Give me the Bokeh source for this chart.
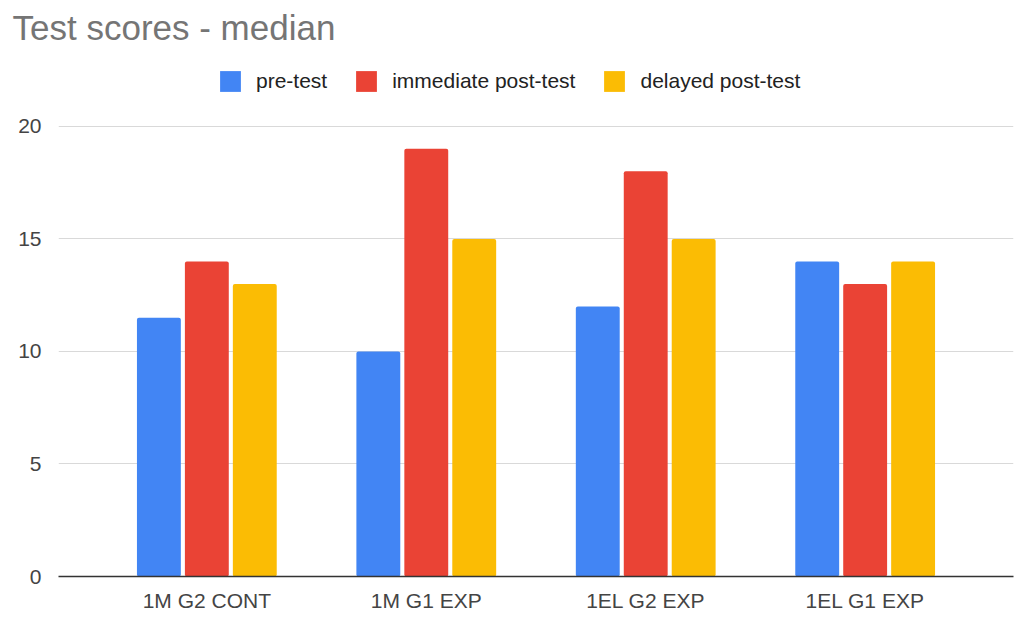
from bokeh.plotting import figure
from bokeh.models import ColumnDataSource, Range1d, FixedTicker, Legend, LegendItem
from bokeh.transform import dodge
from bokeh.embed import file_html
from bokeh.resources import INLINE

categories = ["1M G2 CONT", "1M G1 EXP", "1EL G2 EXP", "1EL G1 EXP"]
pre_test = [11.5, 10, 12, 14]
immediate_post = [14, 19, 18, 13]
delayed_post = [13, 15, 15, 14]
series_names = ["pre-test", "immediate post-test", "delayed post-test"]
colors = ["#4285F4", "#EA4335", "#FBBC04"]
y_ticks = [0, 5, 10, 15, 20]

FONT = "Liberation Sans"

src = ColumnDataSource(dict(x=list(range(len(categories))), pre=pre_test,
                            imm=immediate_post, dly=delayed_post))

# frame spans 50..576 px; 0..20 occupies 125..576, extra headroom holds the legend
p = figure(width=1031, height=633, output_backend="svg", toolbar_location=None,
           x_range=Range1d(-0.676, len(categories) - 1 + 0.676), y_range=Range1d(0, 23.326),
           min_border_left=58, min_border_right=18, min_border_bottom=57, min_border_top=50)

renderers = []
for col, off, c in zip(["pre", "imm", "dly"], [-0.2185, 0, 0.2185], colors):
    r = p.vbar(x=dodge("x", off, range=p.x_range), top=col, width=0.2, source=src,
               fill_color=c, line_color=None, border_radius=2)
    renderers.append(r)

p.title.text = "Test scores - median"
p.title.text_font = FONT
p.title.text_font_size = "35px"
p.title.text_font_style = "normal"
p.title.text_color = "#757575"
p.title.align = "left"
p.title.offset = -46

p.outline_line_color = None
p.background_fill_color = "white"
p.border_fill_color = "white"

p.xgrid.grid_line_color = None
p.ygrid.grid_line_color = "#d9d9d9"
p.ygrid.grid_line_width = 1
p.ygrid.ticker = FixedTicker(ticks=y_ticks)

p.yaxis.ticker = FixedTicker(ticks=y_ticks)
p.yaxis.axis_line_color = None
p.yaxis.major_tick_line_color = None
p.yaxis.minor_tick_line_color = None
p.yaxis.major_label_text_font = FONT
p.yaxis.major_label_text_font_size = "21px"
p.yaxis.major_label_text_color = "#444444"
p.yaxis.major_label_standoff = 11

p.xaxis.ticker = FixedTicker(ticks=list(range(len(categories))))
p.xaxis.major_label_overrides = {i: c for i, c in enumerate(categories)}
p.xaxis.axis_line_color = "#333333"
p.xaxis.axis_line_width = 1.5
p.xaxis.major_tick_line_color = None
p.xaxis.minor_tick_line_color = None
p.xaxis.major_label_text_font = FONT
p.xaxis.major_label_text_font_size = "21px"
p.xaxis.major_label_text_color = "#444444"
p.xaxis.major_label_standoff = 6

legend = Legend(items=[LegendItem(label=n, renderers=[r]) for n, r in zip(series_names, renderers)],
                orientation="horizontal", location=(159, 482))
legend.label_text_font = FONT
legend.label_text_font_size = "21px"
legend.label_text_color = "#222222"
legend.glyph_width = 26
legend.glyph_height = 26
legend.label_standoff = 13
legend.spacing = 26
legend.padding = 0
legend.margin = 0
legend.border_line_color = None
legend.background_fill_alpha = 0
p.add_layout(legend, "center")

open("out.html", "w").write(file_html(p, INLINE))
